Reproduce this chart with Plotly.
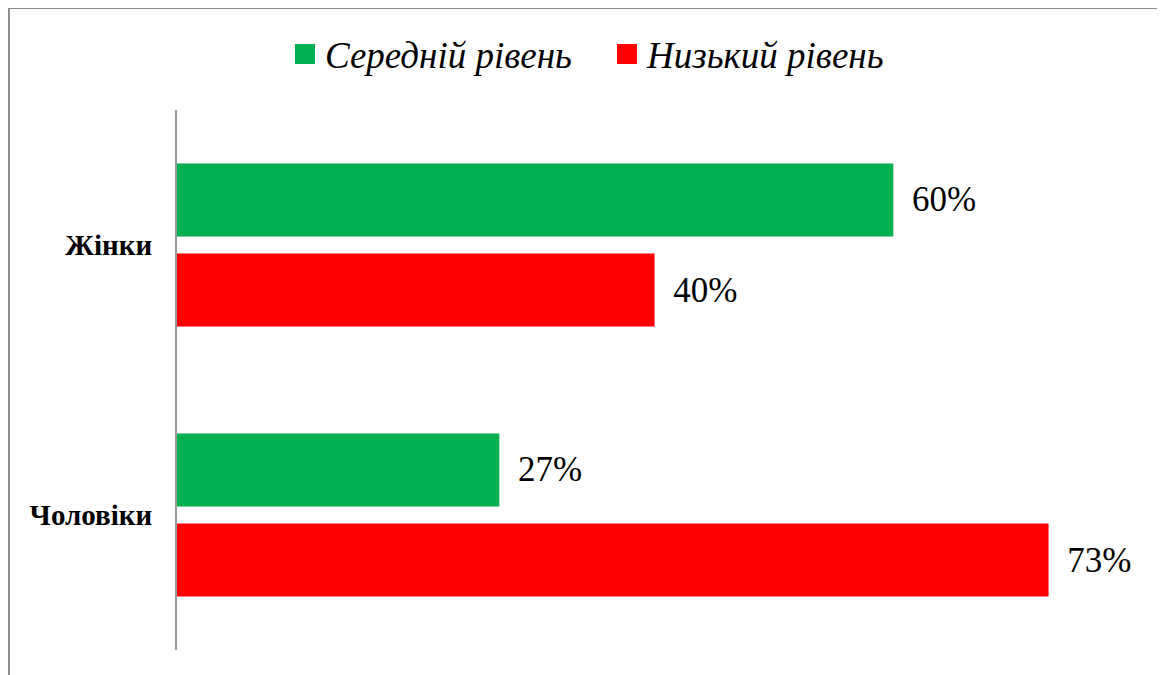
import plotly.graph_objects as go

categories = ["Жінки", "Чоловіки"]
series_names = ["Середній рівень", "Низький рівень"]
medium_values = [60, 27]
low_values = [40, 73]
colors = ["#00B050", "#FF0000"]

SERIF = "Liberation Serif, Times New Roman, serif"

fig = go.Figure()
for name, vals, col in zip(series_names, [medium_values, low_values], colors):
    fig.add_trace(go.Bar(
        y=categories, x=vals, name=name, orientation="h",
        marker=dict(color=col, line=dict(width=0)),
        text=[f"\u00a0\u2009{v}%" for v in vals],
        textposition="outside", cliponaxis=False,
        textfont=dict(family=SERIF, size=35, color="black"),
        showlegend=False, hoverinfo="skip",
    ))
    fig.add_trace(go.Scatter(
        x=[None], y=[None], mode="markers", name=name,
        marker=dict(symbol="square", size=18, color=col, line=dict(color=col, width=4)),
        showlegend=True,
    ))

fig.update_layout(
    width=1157, height=667,
    margin=dict(l=169, r=15, t=102, b=25),
    paper_bgcolor="white", plot_bgcolor="white",
    font=dict(family=SERIF),
    barmode="group", bargap=0.333, bargroupgap=0.19,
    showlegend=True,
    legend=dict(
        orientation="h", x=0.111, y=1.103, xanchor="left", yanchor="middle",
        font=dict(family=SERIF, size=37, color="black", style="italic"),
        itemsizing="trace", traceorder="normal", entrywidth=277, entrywidthmode="pixels",
    ),
    xaxis=dict(range=[0, 81.5], visible=False, showgrid=False, zeroline=False),
    yaxis=dict(
        autorange="reversed", type="category",
        showline=True, linecolor="#999999", linewidth=2,
        ticks="", ticklen=0, ticklabelstandoff=17, showgrid=False, zeroline=False,
        tickfont=dict(family=SERIF, size=29, color="black", weight="bold"),
    ),
    shapes=[dict(
        type="rect", xref="paper", yref="paper",
        x0=-0.1727, x1=1.0113, y0=-0.06, y1=1.1889,
        line=dict(color="#8C8C8C", width=2), fillcolor="rgba(0,0,0,0)", layer="below",
    )],
)

fig.write_html("out.html")
